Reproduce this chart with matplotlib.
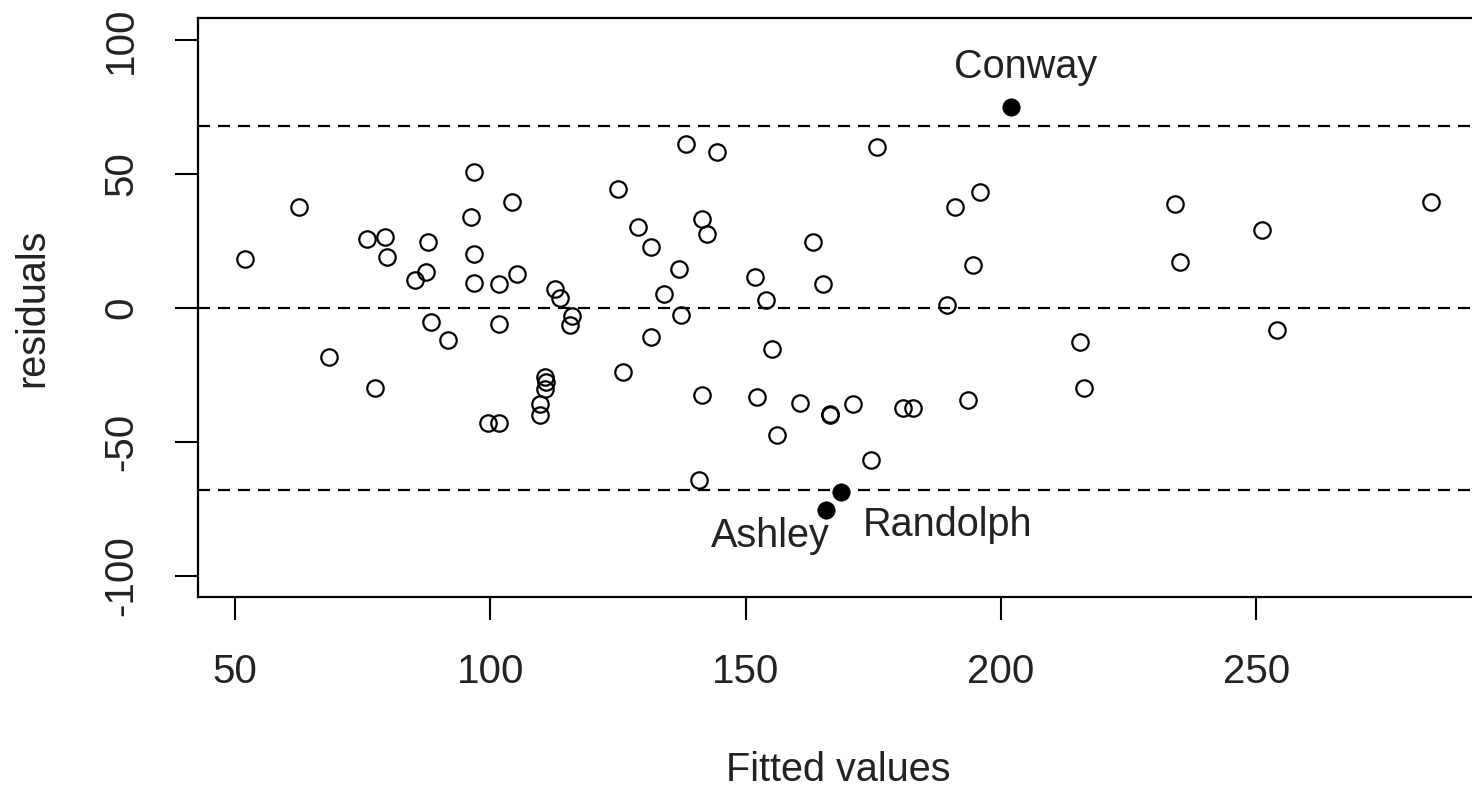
import matplotlib
matplotlib.use("Agg")
import matplotlib.pyplot as plt

plt.rcParams['font.family'] = ['Liberation Sans', 'DejaVu Sans']

# --- data ---
fitted = [52.1, 62.5, 68.5, 75.9, 77.4, 79.4, 79.8, 85.3, 87.4, 87.8,
          88.4, 91.8, 96.2, 96.8, 96.8, 96.8, 99.6, 101.7, 101.7, 101.8,
          104.2, 105.2, 109.7, 109.7, 110.7, 111.0, 110.7, 112.6, 113.6, 115.6,
          116.1, 125.0, 126.0, 129.0, 131.5, 131.5, 134.0, 136.9, 137.4, 138.4,
          140.9, 141.4, 141.4, 142.4, 144.4, 151.8, 152.3, 153.9, 155.2, 156.2,
          160.7, 163.2, 165.1, 166.6, 166.6, 171.0, 174.6, 175.7, 180.8, 182.8,
          189.4, 191.0, 193.5, 194.5, 195.9, 215.4, 216.3, 234.1, 235.1, 251.0,
          254.0, 284.2]
resid = [18.1, 37.7, -18.5, 25.6, -29.8, 26.4, 19.0, 10.4, 13.5, 24.6,
         -5.5, -11.9, 33.8, 50.8, 19.9, 9.4, -42.9, 8.7, -6.0, -42.9,
         39.6, 12.5, -36.1, -39.9, -25.8, -27.8, -30.5, 7.0, 3.8, -6.3,
         -3.2, 44.2, -24.1, 30.2, 22.7, -11.0, 5.0, 14.3, -2.6, 61.1,
         -64.3, 33.1, -32.5, 27.4, 58.2, 11.5, -33.4, 3.0, -15.6, -47.6,
         -35.5, 24.7, 8.7, -39.5, -40.2, -36.1, -57.0, 60.1, -37.4, -37.4,
         0.9, 37.7, -34.4, 16.1, 43.2, -12.9, -29.8, 38.7, 17.1, 29.2,
         -8.3, 39.6]

out_names = ["Conway", "Randolph", "Ashley"]
out_fitted = [201.9, 168.6, 165.7]
out_resid = [75.0, -68.8, -75.5]
cutoff = 68

x_ticks = [50, 100, 150, 200, 250]
y_ticks = [-100, -50, 0, 50, 100]

# label offsets from each point, in points
offsets = {"Conway": (11, 29), "Randolph": (77, -24), "Ashley": (-40, -19)}

fig = plt.figure(figsize=(14.72, 7.88), dpi=100)
ax = fig.add_axes([0.1345, 0.2424, 0.870, 0.7342])

ax.plot(fitted, resid, 'o', mfc='none', mec='black', ms=11.8, mew=1.6)
ax.plot(out_fitted, out_resid, 'o', color='black', ms=12.5, mew=0.5)

for yv in [cutoff, 0, -cutoff]:
    ax.axhline(yv, color='black', lw=1.6, dashes=(5.4, 3.6))

for name, xv, yv in zip(out_names, out_fitted, out_resid):
    ax.annotate(name, (xv, yv), xytext=offsets[name], textcoords='offset points',
                ha='center', va='center', fontsize=28.5, color='#222222')

ax.set_xlim(42.8, 293.5)
ax.set_ylim(-108, 108)
ax.set_xticks(x_ticks)
ax.set_yticks(y_ticks)
ax.set_xticklabels([str(v) for v in x_ticks])
ax.set_yticklabels([str(v) for v in y_ticks], rotation=90, va='center')
ax.tick_params(axis='both', direction='out', length=16.5, width=1.5,
               labelsize=29, labelcolor='#222222')
ax.tick_params(axis='x', pad=24)
ax.tick_params(axis='y', pad=25)
for sp in ax.spines.values():
    sp.set_linewidth(1.6)

fig.text(838.5 / 1472, 1 - 770 / 788, "Fitted values", ha='center', va='center',
         fontsize=28.5, color='#222222')
fig.text(32 / 1472, 1 - 308 / 788, "residuals", ha='center', va='center',
         rotation=90, fontsize=28.5, color='#222222')

fig.savefig("out.png", dpi=100)
